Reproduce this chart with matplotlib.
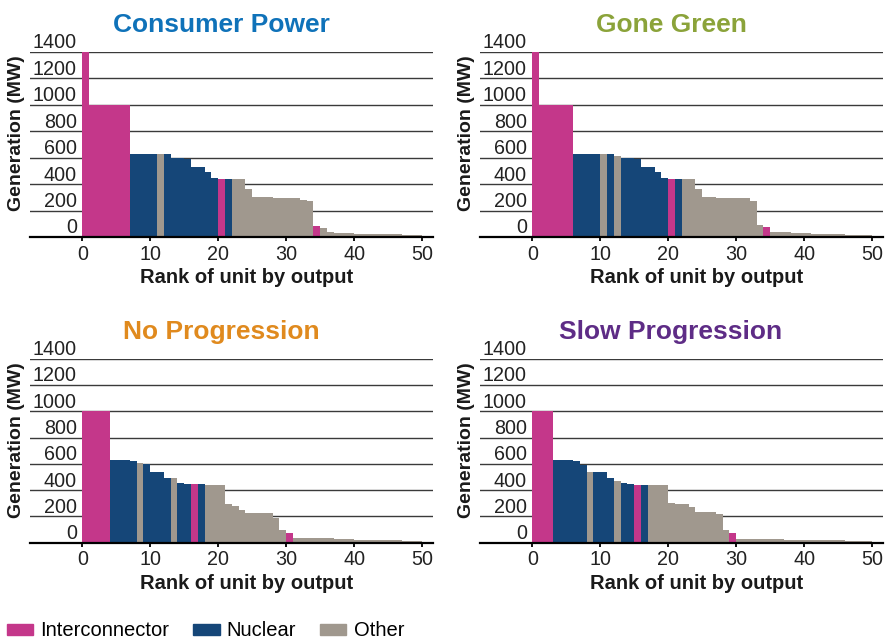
import matplotlib
matplotlib.use("Agg")
import matplotlib.pyplot as plt
from matplotlib.patches import Patch
from matplotlib.transforms import ScaledTranslation

plt.rcParams['font.family'] = ['Liberation Sans', 'DejaVu Sans']

# Units ranked by output (MW); I = interconnector, N = nuclear, O = other
ranks = list(range(50))

cp_mw = [1400, 1000, 1000, 1000, 1000, 1000, 1000, 625, 625, 625,
         625, 625, 625, 598, 598, 587, 532, 532, 495, 450,
         442, 442, 442, 442, 360, 300, 300, 300, 292, 292,
         292, 292, 280, 272, 82, 67, 37, 27, 27, 27,
         22, 22, 22, 22, 22, 22, 22, 15, 15, 15]
cp_kind = list("IIIIIIINNNNONNNNNNNNINOOOOOOOOOOOOIOOOOOOOOOOOOOOO")

gg_mw = [1400, 1000, 1000, 1000, 1000, 1000, 625, 625, 625, 625,
         625, 625, 610, 595, 595, 587, 532, 532, 495, 450,
         442, 442, 437, 437, 360, 300, 300, 292, 292, 292,
         292, 292, 272, 90, 75, 37, 37, 37, 28, 28,
         28, 22, 22, 22, 22, 22, 15, 15, 15, 15]
gg_kind = list("IIIIIINNNNONONNNNNNNINOOOOOOOOOOOOIOOOOOOOOOOOOOOO")

np_mw = [1000, 1000, 1000, 1000, 630, 630, 630, 622, 604, 596,
         538, 538, 492, 492, 454, 447, 447, 447, 439, 439,
         439, 294, 279, 249, 226, 226, 226, 226, 188, 97,
         74, 36, 36, 36, 36, 36, 36, 28, 28, 28,
         20, 20, 20, 20, 20, 20, 20, 13, 13, 13]
np_kind = list("IIIINNNNONNNNONNINOOOOOOOOOOOOIOOOOOOOOOOOOOOOOOOO")

sp_mw = [1000, 1000, 1000, 630, 630, 630, 622, 591, 538, 538,
         538, 492, 469, 454, 447, 439, 439, 439, 439, 439,
         302, 294, 294, 272, 234, 234, 234, 218, 97, 74,
         30, 30, 30, 30, 30, 30, 30, 20, 20, 20,
         20, 20, 20, 20, 20, 20, 13, 13, 13, 13]
sp_kind = list("IIINNNNNONNNONNINOOOOOOOOOOOOIOOOOOOOOOOOOOOOOOOOO")

titles = ["Consumer Power", "Gone Green", "No Progression", "Slow Progression"]
title_colours = ["#0F72B9", "#8BA33A", "#E08A1E", "#5E2C86"]
yticks = [0, 200, 400, 600, 800, 1000, 1200, 1400]
xticks = [0, 10, 20, 30, 40, 50]

kind_colour = {"I": "#C4378A", "N": "#154678", "O": "#A0988E"}
kind_label = {"I": "Interconnector", "N": "Nuclear", "O": "Other"}

fig = plt.figure(figsize=(8.9, 6.4), dpi=100)
W, H = 890.0, 640.0
boxes = [
    [30 / W, (H - 237) / H, 403 / W, 185 / H],
    [480 / W, (H - 237) / H, 403 / W, 185 / H],
    [30 / W, (H - 542.7) / H, 403 / W, 184 / H],
    [480 / W, (H - 542.7) / H, 403 / W, 184 / H],
]
data = [(cp_mw, cp_kind), (gg_mw, gg_kind), (np_mw, np_kind), (sp_mw, sp_kind)]

for box, (mw, kind), title, tcol in zip(boxes, data, titles, title_colours):
    ax = fig.add_axes(box)
    ax.set_xlim(-7.7, 51.6)
    ax.set_ylim(0, 1400)

    # horizontal grid lines behind the bars
    for v in yticks[1:]:
        ax.axhline(v, color="#3a3a3a", lw=1.0, zorder=0)

    ax.bar(ranks, mw, width=1.0, align="edge",
           color=[kind_colour[k] for k in kind], linewidth=0,
           antialiased=False, zorder=2)

    # y labels sit just above their grid line
    lift = ax.transData + ScaledTranslation(0, 2.6 / 72, fig.dpi_scale_trans)
    for v in yticks:
        ax.text(-0.8, v, str(v), transform=lift, ha="right", va="baseline",
                fontsize=14.2, color="#222222")

    for s in ["left", "right", "top"]:
        ax.spines[s].set_visible(False)
    ax.spines["bottom"].set_linewidth(1.6)
    ax.spines["bottom"].set_zorder(3)
    ax.set_yticks([])
    ax.set_xticks(xticks)
    ax.tick_params(axis="x", length=3, width=1.3, pad=2.5, labelsize=14.2,
                   labelcolor="#222222")

    ax.set_xlabel("Rank of unit by output", fontsize=14.5, fontweight="bold",
                  labelpad=4, color="#1a1a1a")
    ax.xaxis.set_label_coords(0.538, -0.17)
    ax.set_ylabel("Generation (MW)", fontsize=14, fontweight="bold", color="#1a1a1a")
    ax.yaxis.set_label_coords(-0.013, 0.56)
    ax.set_title(title, color=tcol, fontsize=19, fontweight="bold", x=0.474, pad=14.5)

handles = [Patch(color=kind_colour[k]) for k in "INO"]
fig.legend(handles, [kind_label[k] for k in "INO"], loc="center left",
           bbox_to_anchor=(7 / W, 9 / H), ncol=3, frameon=False, fontsize=14.5,
           handlelength=1.3, handleheight=0.5, handletextpad=0.35,
           columnspacing=1.2, borderpad=0, borderaxespad=0)

fig.savefig("out.png", dpi=100)
